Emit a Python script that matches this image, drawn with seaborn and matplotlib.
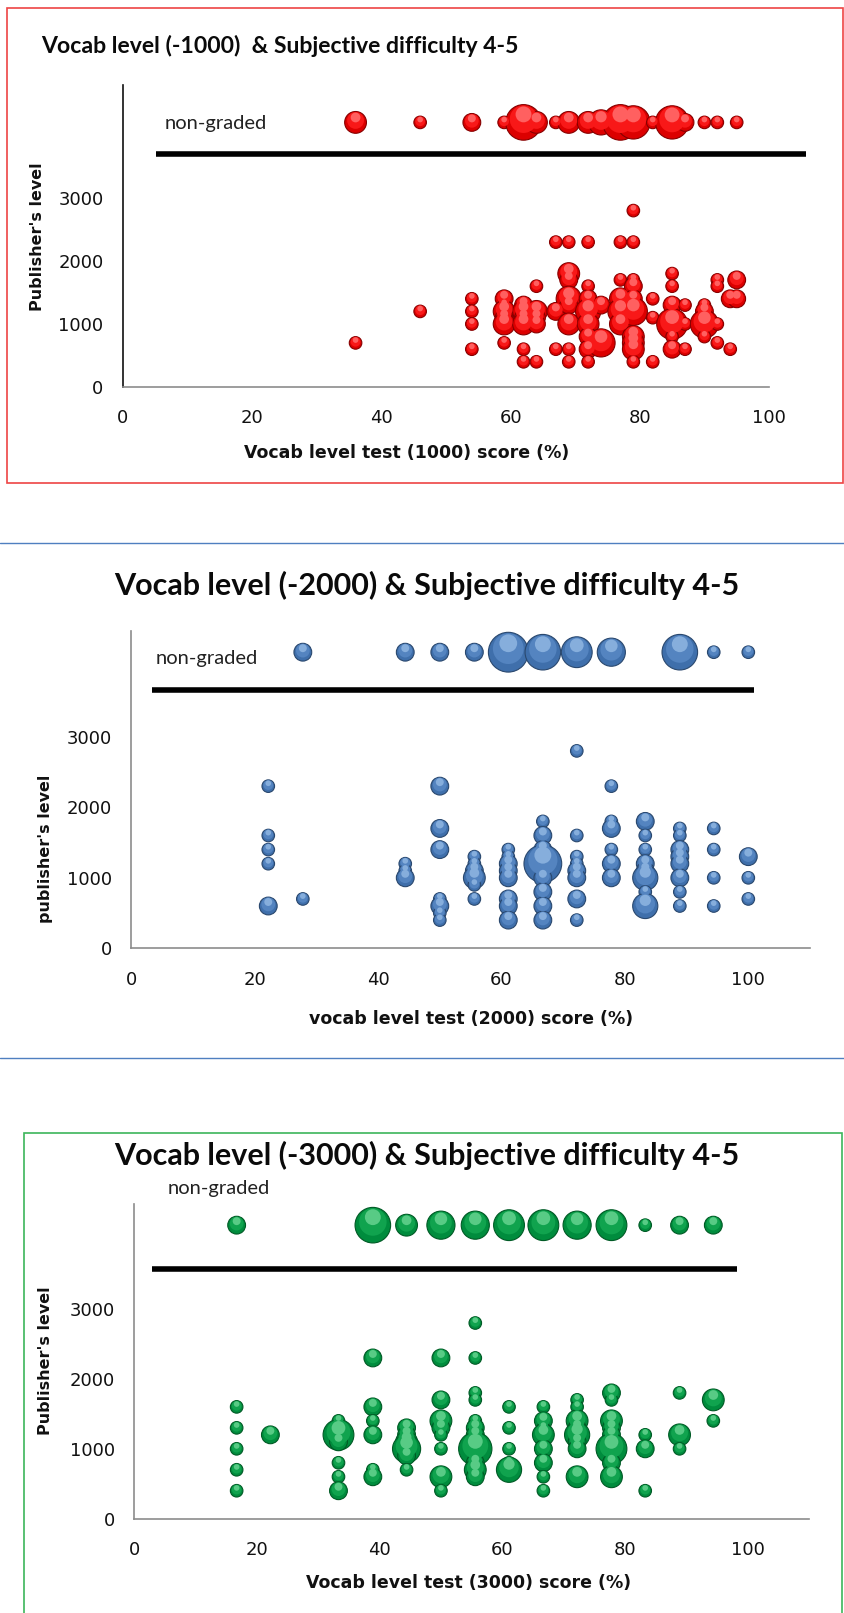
import numpy as np
import pandas as pd
import matplotlib
matplotlib.use('Agg')
import matplotlib.pyplot as plt
from matplotlib.patches import Rectangle
from matplotlib.lines import Line2D
import seaborn as sns

W, H = 844, 1613  # output size in px (dpi 100)

NONGRADED_Y = 4200  # where the "non-graded" books sit on the level axis

# ---- panel 1: vocab level test (1000) ----
P1_SCORES = [36, 46, 54, 59, 62, 64, 67, 69, 72, 74, 77, 79, 82, 85, 87, 90, 92, 94, 95]
P1_LEVELS = [[700], [1200], [1400, 1200, 1000, 600],
             [1400, 1300, 1200, 1100, 1000, 700],
             [1300, 1200, 1100, 1000, 600, 400],
             [1600, 1200, 1100, 1000, 400],
             [2300, 1200, 600],
             [2300, 1800, 1700, 1400, 1300, 1000, 600, 400],
             [2300, 1600, 1400, 1200, 1000, 800, 600, 400],
             [1300, 700],
             [2300, 1700, 1400, 1200, 1000],
             [2800, 2300, 1700, 1600, 1400, 1200, 800, 700, 600, 400],
             [1400, 1100, 400],
             [1800, 1600, 1300, 1000, 800, 600],
             [1300, 1000, 600],
             [1300, 1200, 1000, 800],
             [1700, 1600, 1000, 700],
             [1400, 600],
             [1700, 1400]]
P1_COUNTS = [[1], [1], [1, 1, 1, 1],
             [2, 1, 3, 2, 3, 1],
             [2, 3, 2, 3, 1, 1],
             [1, 3, 2, 2, 1],
             [1, 2, 1],
             [1, 3, 2, 4, 2, 3, 1, 1],
             [1, 1, 2, 4, 3, 2, 2, 1],
             [2, 5],
             [1, 1, 3, 4, 3],
             [1, 1, 1, 2, 2, 5, 3, 3, 3, 1],
             [1, 1, 1],
             [1, 1, 2, 6, 1, 2],
             [1, 1, 1],
             [1, 2, 5, 1],
             [1, 1, 1, 1],
             [2, 1],
             [2, 2]]
P1_NG_SCORES = [36, 46, 54, 59, 62, 64, 67, 69, 72, 74, 77, 79, 82, 85, 87, 90, 92, 95]
P1_NG_COUNTS = [3, 1, 2, 1, 8, 3, 1, 3, 3, 4, 8, 7, 1, 7, 2, 1, 1, 1]

# ---- panel 2: vocab level test (2000) ----
P2_SCORES = [22.2, 27.8, 44.4, 50, 55.6, 61.1, 66.7, 72.2, 77.8, 83.3, 88.9, 94.4, 100]
P2_LEVELS = [[2300, 1600, 1400, 1200, 600],
             [700],
             [1200, 1100, 1000],
             [2300, 1700, 1400, 700, 600, 500, 400],
             [1300, 1200, 1100, 1000, 900, 700],
             [1400, 1300, 1200, 1100, 1000, 700, 600, 400],
             [1800, 1600, 1400, 1200, 1000, 800, 600, 400],
             [2800, 1600, 1300, 1200, 1100, 1000, 700, 400],
             [2300, 1800, 1700, 1400, 1200, 1000],
             [1800, 1600, 1400, 1200, 1100, 1000, 800, 600],
             [1700, 1600, 1400, 1300, 1200, 1000, 800, 600],
             [1700, 1400, 1000, 600],
             [1300, 1000, 700]]
P2_COUNTS = [[1, 1, 1, 1, 2],
             [1],
             [1, 1, 2],
             [2, 2, 2, 1, 2, 1, 1],
             [1, 1, 2, 3, 1, 1],
             [1, 1, 2, 2, 2, 2, 2, 2],
             [1, 2, 2, 9, 2, 2, 2, 2],
             [1, 1, 1, 1, 2, 2, 2, 1],
             [1, 1, 2, 1, 2, 2],
             [2, 1, 1, 2, 2, 4, 1, 4],
             [1, 1, 2, 2, 2, 2, 1, 1],
             [1, 1, 1, 1],
             [2, 1, 1]]
P2_NG_SCORES = [27.8, 44.4, 50, 55.6, 61.1, 66.7, 72.2, 77.8, 88.9, 94.4, 100]
P2_NG_COUNTS = [2, 2, 2, 2, 10, 8, 6, 5, 8, 1, 1]

# ---- panel 3: vocab level test (3000) ----
P3_SCORES = [16.7, 22.2, 33.3, 38.9, 44.4, 50, 55.6, 61.1, 66.7, 72.2, 77.8, 83.3, 88.9, 94.4]
P3_LEVELS = [[1600, 1300, 1000, 700, 400],
             [1200],
             [1400, 1300, 1200, 1100, 800, 600, 400],
             [2300, 1600, 1400, 1200, 700, 600],
             [1300, 1200, 1100, 1000, 900, 700],
             [2300, 1700, 1400, 1300, 1200, 1000, 600, 400],
             [2800, 2300, 1800, 1700, 1400, 1300, 1200, 1000, 800, 700, 600],
             [1600, 1300, 1000, 800, 700],
             [1600, 1400, 1300, 1200, 1000, 800, 600, 400],
             [1700, 1600, 1400, 1300, 1200, 1100, 1000, 600],
             [1800, 1700, 1400, 1300, 1200, 1000, 800, 600],
             [1200, 1000, 400],
             [1800, 1200, 1000],
             [1700, 1400]]
P3_COUNTS = [[1, 1, 1, 1, 1],
             [2],
             [1, 1, 6, 2, 1, 1, 2],
             [2, 2, 1, 2, 1, 2],
             [2, 2, 3, 5, 2, 1],
             [2, 2, 3, 2, 1, 1, 3, 1],
             [1, 1, 1, 1, 1, 2, 2, 7, 2, 3, 2],
             [1, 1, 1, 1, 4],
             [1, 2, 1, 3, 2, 2, 1, 1],
             [1, 1, 3, 2, 4, 2, 2, 3],
             [2, 1, 3, 2, 2, 6, 2, 3],
             [1, 2, 1],
             [1, 3, 1],
             [3, 1]]
P3_NG_SCORES = [16.7, 38.9, 44.4, 50, 55.6, 61.1, 66.7, 72.2, 77.8, 83.3, 88.9, 94.4]
P3_NG_COUNTS = [2, 8, 3, 5, 5, 6, 6, 5, 6, 1, 2, 2]

Y_TICKS = [0, 1000, 2000, 3000, 4000]
Y_TICKLABELS = ['0', '1000', '2000', '3000', '']
X_TICKS = [0, 20, 40, 60, 80, 100]

SIZE_NORM = (1, 10)
AREA_PER_BOOK = 82  # pt^2 per book -> ~12-13 px dot for a single book

sns.set_theme(style='white')
plt.rcParams['font.family'] = ['DejaVu Sans']


def build_frame(scores, levels, counts, ng_scores, ng_counts):
    rows = [(s, lv, c) for s, lvs, cs in zip(scores, levels, counts) for lv, c in zip(lvs, cs)]
    rows += [(s, NONGRADED_Y, c) for s, c in zip(ng_scores, ng_counts)]
    return pd.DataFrame(rows, columns=['score', 'level', 'n'])


def px_rect(left, top, right, bottom):
    return [left / W, 1 - bottom / H, (right - left) / W, (bottom - top) / H]


def draw_bubbles(ax, df, palette):
    '''Stacked shrinking discs, each nudged up a little, to fake the spreadsheet's 3D spheres.'''
    edge, base, mid, light = palette
    px_per_unit = (ax.transData.transform((0, 1000))[1] - ax.transData.transform((0, 0))[1]) / 1000
    layers = [(1.0, base, edge, 0.8, 0.0), (0.6, mid, 'none', 0, 0.18), (0.2, light, 'none', 0, 0.45)]
    for frac, col, ec, lw, lift in layers:
        d = df.copy()
        radius_px = np.sqrt(AREA_PER_BOOK * d['n']) / 2 * 100 / 72
        d['level'] = d['level'] + lift * radius_px / px_per_unit
        sns.scatterplot(data=d, x='score', y='level', size='n', sizes=(AREA_PER_BOOK * frac, AREA_PER_BOOK * 10 * frac),
                        size_norm=SIZE_NORM, color=col, edgecolor=ec, linewidth=lw, legend=False, ax=ax, zorder=3)


def style_axes(ax, xlim, ylim, left_color):
    ax.set_xlim(*xlim)
    ax.set_ylim(*ylim)
    ax.set_xticks(X_TICKS)
    ax.set_yticks(Y_TICKS)
    ax.set_yticklabels(Y_TICKLABELS)
    for s in ['top', 'right']:
        ax.spines[s].set_visible(False)
    ax.spines['left'].set_color(left_color)
    ax.spines['bottom'].set_color('#8c8c8c')
    ax.spines['left'].set_linewidth(1.2)
    ax.spines['bottom'].set_linewidth(1.2)
    ax.tick_params(axis='x', direction='in', length=5, width=1, color='#8c8c8c', pad=16, labelsize=13, labelcolor='#111111')
    ax.tick_params(axis='y', direction='in', length=5, width=1, color=left_color, pad=14, labelsize=13, labelcolor='#111111')
    ax.set_facecolor('none')
    ax.grid(False)


fig = plt.figure(figsize=(W / 100, H / 100), dpi=100)

# panel frames (red box, blue band, green box)
fig.add_artist(Rectangle((7 / W, 1 - 483 / H), 836 / W, 475 / H, transform=fig.transFigure,
                         fill=False, edgecolor='#ee4444', lw=1.2))
for yy in [543, 1058]:
    fig.add_artist(Line2D([0, 1], [1 - yy / H] * 2, transform=fig.transFigure, color='#4f7fc0', lw=1.0))
fig.add_artist(Rectangle((24 / W, -0.01), 818 / W, 1 - 1133 / H + 0.01, transform=fig.transFigure,
                         fill=False, edgecolor='#3cb55a', lw=1.2))

panels = [
    dict(df=build_frame(P1_SCORES, P1_LEVELS, P1_COUNTS, P1_NG_SCORES, P1_NG_COUNTS),
         rect=px_rect(123, 84.6, 769, 387), xlim=(0, 100), ylim=(0, 4800), left='#111111',
         palette=('#860000', '#dc0000', '#f81818', '#ff6060'),
         sep=([5.1, 105.7], 3700), ng=(6.5, 4180),
         title='Vocab level (-1000)  & Subjective difficulty 4-5', title_xy=(41, 46), title_ha='left', title_fs=16.6,
         xlabel='Vocab level test (1000) score (%)', xl=(0.439, -0.218),
         ylabel="Publisher's level", yl=(-0.132, 0.496)),
    dict(df=build_frame(P2_SCORES, P2_LEVELS, P2_COUNTS, P2_NG_SCORES, P2_NG_COUNTS),
         rect=px_rect(131.3, 631.05, 810, 948.3), xlim=(0, 110), ylim=(0, 4500), left='#8c8c8c',
         palette=('#2a486e', '#3f6fab', '#5484c0', '#86aedc'),
         sep=([3.4, 101], 3670), ng=(4, 4110),
         title='Vocab level (-2000) & Subjective difficulty 4-5', title_xy=(427, 585), title_ha='center', title_fs=22,
         xlabel='vocab level test (2000) score (%)', xl=(0.5, -0.223),
         ylabel="publisher's level", yl=(-0.126, 0.313)),
    dict(df=build_frame(P3_SCORES, P3_LEVELS, P3_COUNTS, P3_NG_SCORES, P3_NG_COUNTS),
         rect=px_rect(134.2, 1204.2, 809, 1518.7), xlim=(0, 110), ylim=(0, 4500), left='#8c8c8c',
         palette=('#005a25', '#008c3d', '#10a34e', '#58cb85'),
         sep=([2.9, 98.3], 3570), ng=(5.5, 4730),
         title='Vocab level (-3000) & Subjective difficulty 4-5', title_xy=(427, 1155), title_ha='center', title_fs=22,
         xlabel='Vocab level test (3000) score (%)', xl=(0.496, -0.204),
         ylabel="Publisher's level", yl=(-0.132, 0.504)),
]

for p in panels:
    ax = fig.add_axes(p['rect'])
    style_axes(ax, p['xlim'], p['ylim'], p['left'])
    draw_bubbles(ax, p['df'], p['palette'])
    ax.plot(p['sep'][0], [p['sep'][1]] * 2, color='black', lw=4, solid_capstyle='butt', clip_on=False, zorder=2)
    ax.text(p['ng'][0], p['ng'][1], 'non-graded', family=['Lato', 'DejaVu Sans'], fontsize=14.5,
            color='#222222', ha='left', va='center', clip_on=False)
    ax.set_xlabel(p['xlabel'], fontsize=12.5, fontweight='bold', color='#111111')
    ax.set_ylabel(p['ylabel'], fontsize=11.5, fontweight='bold', color='#111111')
    ax.xaxis.set_label_coords(*p['xl'])
    ax.yaxis.set_label_coords(*p['yl'])
    ax.xaxis.label.set_va('center')
    ax.yaxis.label.set_va('center')
    fig.text(p['title_xy'][0] / W, 1 - p['title_xy'][1] / H, p['title'], ha=p['title_ha'], va='center',
             fontsize=p['title_fs'], fontweight='bold', family=['Lato', 'DejaVu Sans'], color='#0a0a0a')

fig.savefig('out.png', dpi=100)
plt.close(fig)
